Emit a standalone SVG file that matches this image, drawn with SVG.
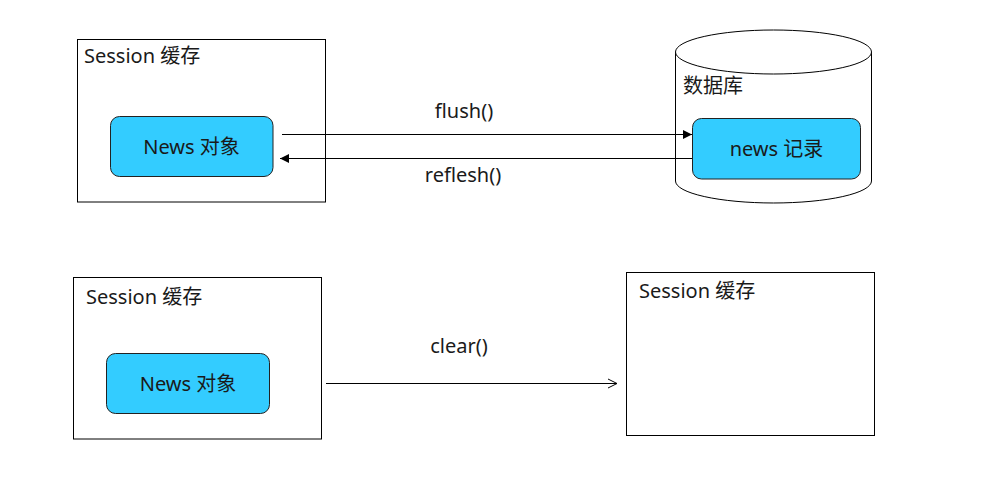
<svg xmlns="http://www.w3.org/2000/svg" width="984" height="493" viewBox="0 0 984 493">
<style>
text{font-family:"Noto Sans","Noto Sans CJK SC",sans-serif;font-size:20px;fill:#1a1a1a}
.box{fill:#fff;stroke:#000;stroke-width:1}
.obj{fill:#33CCFF;stroke:#222;stroke-width:1}
.ln{stroke:#000;stroke-width:1;fill:none}
.c{text-anchor:middle}
</style>
<defs>
<marker id="fa" markerWidth="10" markerHeight="10" refX="9" refY="5" orient="auto" markerUnits="userSpaceOnUse">
<path d="M0,0.5 L9,5 L0,9.5 Z" fill="#000"/>
</marker>
<marker id="oa" markerWidth="12" markerHeight="12" refX="10" refY="6" orient="auto" markerUnits="userSpaceOnUse">
<path d="M1,1.5 L10,6 L1,10.5" fill="none" stroke="#000" stroke-width="1"/>
</marker>
</defs>
<rect width="984" height="493" fill="#fff"/>
<g id="session1">
<rect class="box" x="77.5" y="39.5" width="248" height="162.5"/>
<text x="84" y="63">Session 缓存</text>
</g>
<g id="news1">
<rect class="obj" x="110.5" y="116.5" width="162.5" height="60" rx="9"/>
<text class="c" x="191.5" y="154">News 对象</text>
</g>
<g id="db">
<path class="box" d="M675.5,52 L675.5,181 A98,22 0 0 0 871.5,181 L871.5,52"/>
<ellipse class="box" cx="773.5" cy="52" rx="98" ry="22"/>
<text x="683" y="93">数据库</text>
</g>
<g id="record">
<rect class="obj" x="692.5" y="118.5" width="168" height="60.5" rx="9"/>
<text class="c" x="776.5" y="156">news 记录</text>
</g>
<g id="session2">
<rect class="box" x="73.5" y="277.5" width="248" height="161.5"/>
<text x="86" y="304">Session 缓存</text>
</g>
<g id="news2">
<rect class="obj" x="106.5" y="353.5" width="163" height="60" rx="9"/>
<text class="c" x="188" y="391">News 对象</text>
</g>
<g id="session3">
<rect class="box" x="626.5" y="272.5" width="248" height="163"/>
<text x="639" y="298">Session 缓存</text>
</g>
<g id="connectors">
<line class="ln" x1="282" y1="134.5" x2="692" y2="134.5" marker-end="url(#fa)"/>
<text class="c" x="464" y="118">flush()</text>
<line class="ln" x1="692" y1="158.5" x2="280" y2="158.5" marker-end="url(#fa)"/>
<text class="c" x="463" y="182">reflesh()</text>
<line class="ln" x1="326" y1="383.5" x2="617" y2="383.5" marker-end="url(#oa)"/>
<text class="c" x="459" y="353">clear()</text>
</g>
</svg>
